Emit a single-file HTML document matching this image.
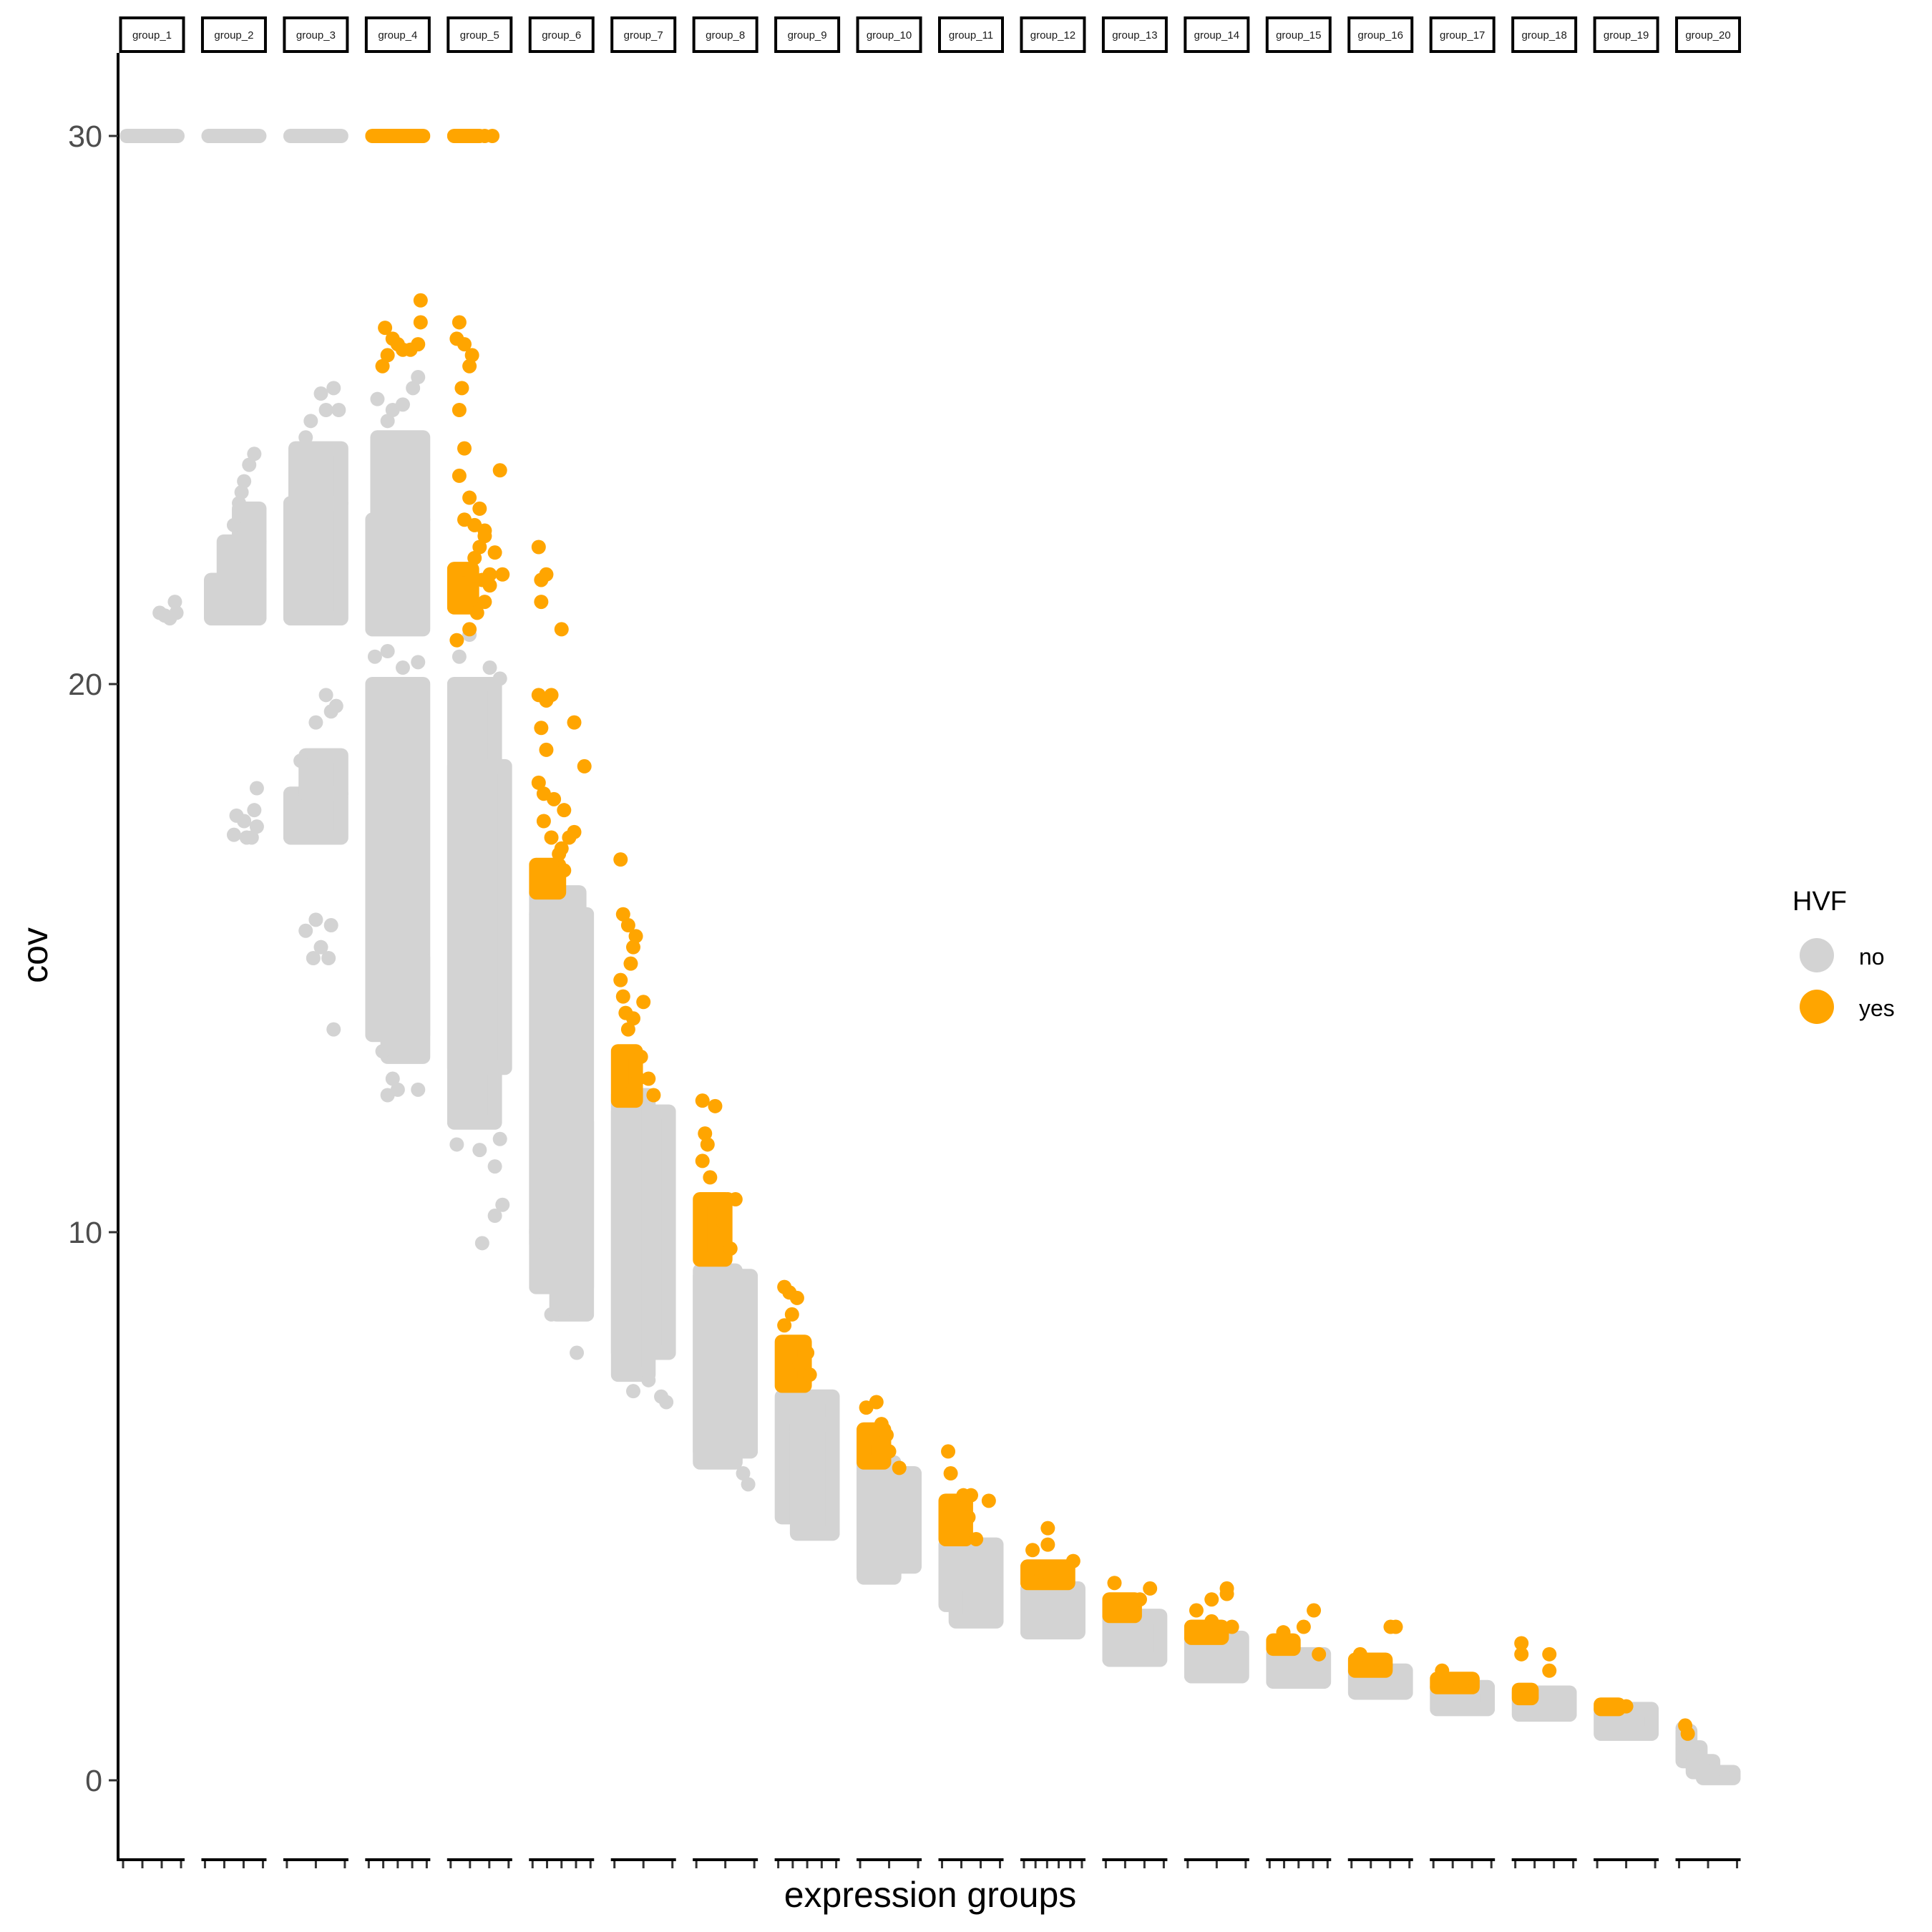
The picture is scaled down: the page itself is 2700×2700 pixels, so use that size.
<!DOCTYPE html>
<html><head><meta charset="utf-8"><style>
html,body{margin:0;padding:0;background:#fff;}
svg{display:block;font-family:"Liberation Sans",sans-serif;}
</style></head><body>
<svg id="chart" width="2700" height="2700" viewBox="0 0 2700 2700" xmlns="http://www.w3.org/2000/svg">
<g id="clips"></g>
<g id="panels"></g>
<g id="axes"></g>
<text x="0" y="0" transform="translate(66,1335) rotate(-90)" text-anchor="middle" font-size="50" fill="#000">cov</text>
<text x="1300" y="2665" text-anchor="middle" font-size="50" fill="#000">expression groups</text>
<g>
<text x="2505" y="1272" font-size="38" fill="#000">HVF</text>
<circle cx="2539" cy="1335" r="24" fill="#d3d3d3"/>
<text x="2598" y="1348" font-size="32" fill="#000">no</text>
<circle cx="2539" cy="1407" r="24" fill="#ffa500"/>
<text x="2598" y="1420" font-size="32" fill="#000">yes</text>
</g>
</svg>
<script>
const groups = ["group_1","group_2","group_3","group_4","group_5","group_6","group_7","group_8","group_9","group_10","group_11","group_12","group_13","group_14","group_15","group_16","group_17","group_18","group_19","group_20"];
const yTicks = [0,10,20,30];
const xTickCounts = [4,4,3,5,4,5,3,3,5,3,4,6,4,3,5,4,4,4,3,3];
// bands: [xFracStart, xFracEnd, covLow, covHigh]
const grayBands = [
 [[0,1,30,30]],
 [[0,1,30,30],[0.05,1,21.2,21.9],[0.3,1,21.9,22.6],[0.6,1,22.6,23.2]],
 [[0,1,30,30],[0,1,21.2,23.3],[0.1,1,23.3,24.3],[0,1,17.2,18.0],[0.3,1,18,18.7]],
 [[0,1,21,23],[0.1,1,23,24.5],[0,1,13.6,20.0],[0.3,1,13.2,15]],
 [[0,0.8,12,20],[0,1,13,18.5]],
 [[0,0.85,9.8,16.2],[0,1,9.0,15.8],[0.4,1,8.5,12]],
 [[0,1,7.8,12.2],[0,0.6,7.4,12.5]],
 [[0,1,6.0,9.2],[0,0.7,5.8,9.3]],
 [[0,1,4.8,7.0],[0.3,1,4.5,6.5]],
 [[0,1,3.9,5.6],[0,0.6,3.7,5.8]],
 [[0,1,3.2,4.3],[0.2,1,2.9,3.6]],
 [[0,1,2.7,3.5]],
 [[0,1,2.2,3.0]],
 [[0,1,1.9,2.6]],
 [[0,1,1.8,2.3]],
 [[0,1,1.6,2.0]],
 [[0,1,1.3,1.7]],
 [[0,1,1.2,1.6]],
 [[0,1,0.85,1.3]],
 [[0,0.15,0.55,0.9],[0,0.35,0.35,0.6],[0.2,0.6,0.15,0.35],[0.4,1,0.04,0.15]]
];
const orangeBands = [
 [],[],[],
 [[0,1,30,30]],
 [[0,0.5,30,30],[0,0.35,21.4,22.1]],
 [[0,0.45,16.2,16.7]],
 [[0,0.35,12.4,13.3]],
 [[0,0.5,9.5,10.6]],
 [[0,0.45,7.2,8.0]],
 [[0,0.4,5.8,6.4]],
 [[0,0.4,4.4,5.1]],
 [[0,0.8,3.6,3.9]],
 [[0,0.5,3.0,3.3]],
 [[0,0.6,2.6,2.8]],
 [[0,0.4,2.4,2.55]],
 [[0,0.6,2.0,2.2]],
 [[0,0.7,1.7,1.85]],
 [[0,0.25,1.5,1.65]],
 [[0,0.35,1.3,1.38]],
 []
];
// points: [xFrac, cov]
const grayPoints = [
 [[0.65,21.3],[0.75,21.25],[0.85,21.2],[0.95,21.5],[0.98,21.3]],
 [[0.5,22.9],[0.6,23.3],[0.7,23.7],[0.8,24.0],[0.9,24.2],[0.65,23.5],[0.55,17.6],[0.7,17.5],[0.85,17.2],[0.95,17.4],[0.9,17.7],[0.95,18.1],[0.5,17.25],[0.75,17.2]],
 [[0.4,24.8],[0.6,25.3],[0.85,25.4],[0.95,25.0],[0.3,24.5],[0.7,25.0],[0.2,18.6],[0.5,19.3],[0.7,19.8],[0.8,19.5],[0.9,19.6],[0.3,15.5],[0.5,15.7],[0.6,15.2],[0.45,15.0],[0.75,15.0],[0.8,15.6],[0.85,13.7]],
 [[0.1,25.2],[0.4,25.0],[0.6,25.1],[0.8,25.4],[0.9,25.6],[0.3,24.8],[0.3,12.5],[0.5,12.6],[0.4,12.8],[0.2,13.3],[0.9,12.6],[0.05,20.5],[0.3,20.6],[0.6,20.3],[0.9,20.4]],
 [[0.1,20.5],[0.3,20.9],[0.7,20.3],[0.9,20.1],[0.05,11.6],[0.5,11.5],[0.8,11.2],[0.95,10.5],[0.8,10.3],[0.55,9.8],[0.9,11.7]],
 [[0.3,8.5],[0.8,7.8],[0.6,8.6],[0.0,10.0]],
 [[0.3,7.1],[0.6,7.3],[0.85,7.0],[0.95,6.9]],
 [[0.85,5.6],[0.95,5.4]],
 [],[],[],[],[],[],[],[],[],[],[],
 [[0,0.95],[0.1,0.7],[0.2,0.5],[0.3,0.35],[0.4,0.25],[0.55,0.15],[0.7,0.1],[0.85,0.05],[1,0.05]]
];
const orangePoints = [
 [],[],[],
 [[0.2,25.8],[0.3,26.0],[0.4,26.3],[0.5,26.2],[0.6,26.1],[0.75,26.1],[0.9,26.2],[0.95,26.6],[0.95,27.0],[0.25,26.5]],
 [[0.05,26.3],[0.1,26.6],[0.2,26.2],[0.3,25.8],[0.35,26.0],[0.15,25.4],[0.1,25],[0.2,24.3],[0.1,23.8],[0.3,23.4],[0.2,23.0],[0.4,22.9],[0.5,23.2],[0.6,22.8],[0.9,23.9],[0.8,22.4],[0.7,22.0],[0.95,22.0],[0.6,21.5],[0.05,20.8],[0.3,21.0],[0.45,21.3],[0.5,22.5],[0.55,21.9],[0.4,22.3],[0.7,21.8],[0.6,22.7],[0.75,30],[0.6,30]],
 [[0.05,22.5],[0.1,21.9],[0.2,22.0],[0.1,21.5],[0.5,21.0],[0.05,19.8],[0.2,19.7],[0.3,19.8],[0.1,19.2],[0.2,18.8],[0.05,18.2],[0.15,18.0],[0.35,17.9],[0.55,17.7],[0.75,19.3],[0.95,18.5],[0.65,17.2],[0.75,17.3],[0.5,17.0],[0.15,17.5],[0.55,16.6],[0.45,16.9],[0.3,17.2]],
 [[0.05,16.8],[0.1,15.8],[0.2,15.6],[0.3,15.2],[0.25,14.9],[0.05,14.6],[0.15,14.0],[0.2,13.7],[0.5,14.2],[0.3,13.9],[0.4,12.8],[0.6,12.8],[0.7,12.5],[0.1,14.3],[0.35,15.4],[0.45,13.2],[0.3,12.6]],
 [[0.05,12.4],[0.3,12.3],[0.1,11.8],[0.15,11.6],[0.05,11.3],[0.2,11.0],[0.55,10.6],[0.7,10.6],[0.45,10.2],[0.6,9.7]],
 [[0.05,9.0],[0.15,8.9],[0.3,8.8],[0.05,8.3],[0.2,8.5],[0.35,7.6],[0.55,7.4],[0.5,7.8]],
 [[0.05,6.8],[0.25,6.9],[0.35,6.5],[0.5,6.0],[0.7,5.7],[0.05,6.2],[0.45,6.3]],
 [[0.05,6.0],[0.1,5.6],[0.35,5.2],[0.5,5.2],[0.85,5.1],[0.6,4.4],[0.45,4.8]],
 [[0.1,4.2],[0.4,4.6],[0.4,4.3],[0.9,4.0],[0.3,3.8]],
 [[0.1,3.6],[0.8,3.5],[0.6,3.3],[0.4,3.2]],
 [[0.1,3.1],[0.4,3.3],[0.4,2.9],[0.7,3.5],[0.7,3.4],[0.8,2.8]],
 [[0.2,2.7],[0.6,2.8],[0.8,3.1],[0.9,2.3]],
 [[0.1,2.3],[0.3,2.2],[0.7,2.8],[0.8,2.8],[0.6,2.1]],
 [[0.1,2.0],[0.2,1.8],[0.5,1.8]],
 [[0.05,2.5],[0.05,2.3],[0.6,2.3],[0.6,2.0],[0.2,1.6]],
 [[0.5,1.35]],
 [[0.05,1.0],[0.1,0.85]]
];

const NS="http://www.w3.org/2000/svg";
const PL=167, PW=91, PITCH=114.45, R=10, PTOP=71, PBOT=2598;
function yScale(v){return 2488 - v*76.6;}
function panelX(i){return PL + i*PITCH;}
function xScale(i,f){return panelX(i)+R+f*(PW-2*R);}
function mk(tag,attrs,parent){const e=document.createElementNS(NS,tag);for(const k in attrs)e.setAttribute(k,attrs[k]);parent.appendChild(e);return e;}

const clips=document.getElementById('clips');
const panels=document.getElementById('panels');
const axes=document.getElementById('axes');
const GRAY="#d3d3d3", ORANGE="#ffa500";

groups.forEach((g,i)=>{
  const x0=panelX(i);
  const cp=mk('clipPath',{id:'clip'+i},clips);
  mk('rect',{x:x0,y:PTOP,width:PW,height:PBOT-PTOP},cp);
  const pg=mk('g',{'clip-path':'url(#clip'+i+')'},panels);
  
  
  function band(b,color,nm){
    const xa=xScale(i,b[0]), xb=xScale(i,b[1]), ya=yScale(b[3]), yb=yScale(b[2]);
    const r=mk('rect',{x:xa,y:ya,width:Math.max(0.01,xb-xa),height:Math.max(0.01,yb-ya),fill:color,stroke:color,'stroke-width':2*R,'stroke-linejoin':'round'},pg);
    
    
  }
  function pt(p,color,nm){
    const c=mk('circle',{cx:xScale(i,p[0]),cy:yScale(p[1]),r:R,fill:color},pg);
    
    
  }
  grayBands[i].forEach(b=>band(b,GRAY,'point-cluster-no'));
  grayPoints[i].forEach(p=>pt(p,GRAY,'point-no'));
  orangeBands[i].forEach(b=>band(b,ORANGE,'point-cluster-yes'));
  orangePoints[i].forEach(p=>pt(p,ORANGE,'point-yes'));
  const sg=mk('g',{},axes);
  
  
  mk('rect',{x:x0+1.5,y:25,width:PW-3,height:47,fill:'#fff',stroke:'#000','stroke-width':4},sg);
  const t=mk('text',{x:x0+PW/2,y:54,'text-anchor':'middle','font-size':15,fill:'#1a1a1a'},sg);
  t.textContent=g;
  const ag=mk('g',{},axes);
  
  
  mk('line',{x1:x0-(i===0?2:0),x2:x0+PW,y1:PBOT+1,y2:PBOT+1,stroke:'#000','stroke-width':4},ag);
  const n=xTickCounts[i];
  for(let k=0;k<n;k++){
    const tx=x0+5+k*(PW-10)/(n-1);
    mk('line',{x1:tx,x2:tx,y1:PBOT+3,y2:PBOT+13,stroke:'#333','stroke-width':3},ag);
  }
});
const ya=mk('g',{},axes);


mk('line',{x1:165,x2:165,y1:PTOP+3,y2:PBOT+3,stroke:'#000','stroke-width':4},ya);
yTicks.forEach(v=>{
  mk('line',{x1:152,x2:165,y1:yScale(v),y2:yScale(v),stroke:'#333','stroke-width':3},ya);
  const t=mk('text',{x:143,y:yScale(v)+15,'text-anchor':'end','font-size':43,fill:'#4d4d4d'},ya);
  
  
  t.textContent=v;
});
</script>
</body></html>
